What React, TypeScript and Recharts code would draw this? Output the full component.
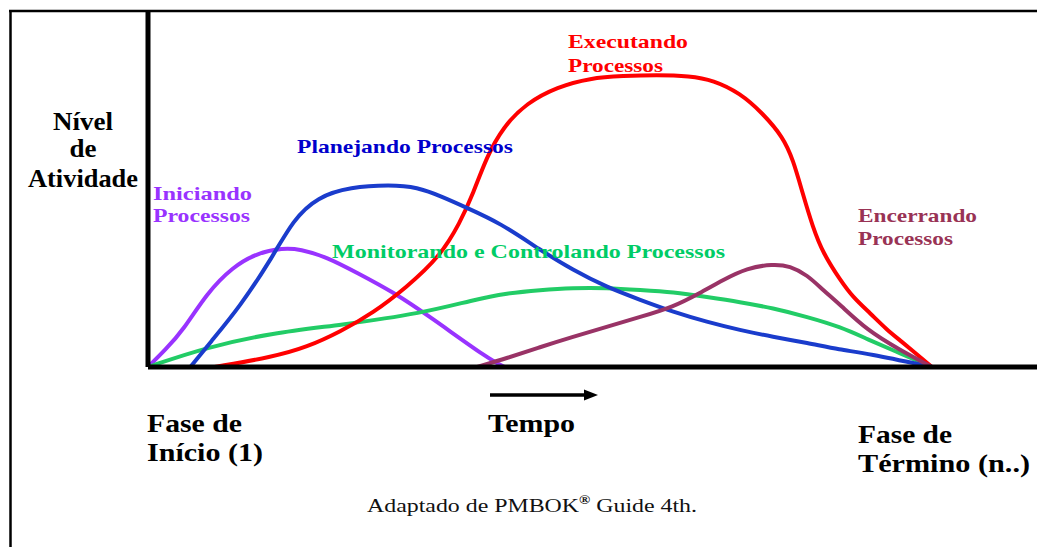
import React from "react";
import { LineChart, Line, XAxis, YAxis } from "recharts";

// tempo: 0 = fase de início, 100 = fase de término; nível de atividade 0..100
const iniciando: [number, number][] = [
  [0, 0], [2.2, 4.8], [4.5, 10.4], [7.5, 20.8], [10.8, 28.2], [13.9, 32.1],
  [17.2, 33.5], [19.4, 33.2], [22.8, 31.0], [26.7, 26.5], [31.3, 21.1],
  [36.0, 14.1], [43.6, 2.0], [45.5, 0],
];

const planejando: [number, number][] = [
  [5.4, 0], [7.9, 6.8], [11.7, 16.9], [15.9, 31.0], [18.5, 41.4], [21.6, 47.9],
  [25.8, 50.7], [30.9, 51.3], [34.3, 50.7], [37.6, 47.9], [40.7, 44.8],
  [44.9, 40.6], [50.0, 33.0], [54.2, 27.3], [58.5, 22.5], [62.8, 18.9],
  [67.0, 15.5], [71.3, 12.7], [75.5, 10.4], [79.7, 8.5], [84.1, 6.8],
  [88.3, 4.8], [91.7, 3.9], [100, 0],
];

const executando: [number, number][] = [
  [8.5, 0], [15.9, 2.8], [20.3, 5.6], [24.5, 9.9], [28.7, 15.2], [33.0, 22.5],
  [37.2, 31.0], [39.8, 40.6], [41.5, 49.0], [43.2, 59.2], [45.3, 67.6],
  [48.3, 74.4], [52.2, 78.9], [56.4, 81.4], [60.6, 82.0], [64.9, 82.3],
  [69.1, 82.0], [72.1, 80.8], [75.5, 77.2], [78.4, 71.5], [81.0, 64.8],
  [82.3, 58.3], [83.5, 49.0], [84.8, 39.4], [86.1, 32.1], [88.3, 24.5],
  [89.9, 19.7], [92.1, 15.2], [94.3, 10.4], [95.9, 7.6], [100, 0],
];

const monitorando: [number, number][] = [
  [0, 0], [7.5, 5.6], [15.9, 9.6], [24.5, 11.8], [35.1, 15.2], [41.5, 18.9],
  [45.8, 20.8], [50.0, 21.7], [54.2, 22.3], [58.5, 22.3], [62.8, 21.7],
  [67.0, 21.1], [71.3, 19.7], [75.5, 18.3], [79.7, 16.6], [84.1, 14.1],
  [88.3, 11.3], [91.7, 7.9], [95.9, 3.9], [100, 0],
];

const encerrando: [number, number][] = [
  [42.0, 0], [45.8, 2.5], [50.0, 5.6], [54.2, 8.5], [58.5, 11.3], [62.8, 14.1],
  [67.0, 16.9], [70.4, 20.8], [73.3, 24.5], [76.4, 27.9], [79.7, 29.0],
  [81.9, 28.5], [84.1, 25.9], [86.1, 21.7], [88.3, 17.5], [91.7, 10.4],
  [95.9, 4.8], [100, 0],
];

const toPts = (arr: [number, number][]) => arr.map(([t, v]) => ({ t, v }));

const series = [
  { name: "Iniciando Processos", data: iniciando, color: "#9933ff" },
  { name: "Monitorando e Controlando Processos", data: monitorando, color: "#22cc66" },
  { name: "Executando Processos", data: executando, color: "#ff0000" },
  { name: "Planejando Processos", data: planejando, color: "#1a3ccc" },
  { name: "Encerrando Processos", data: encerrando, color: "#993366" },
];

const serif = "'Liberation Serif', 'Times New Roman', serif";

type LabelProps = {
  x: number;
  y: number;
  w: number;
  size: number;
  color: string;
  children: React.ReactNode;
  anchor?: "start" | "middle";
};

const T = ({ x, y, w, size, color, children, anchor = "start" }: LabelProps) => (
  <text
    x={x}
    y={y}
    fontSize={size}
    fontFamily={serif}
    fontWeight="bold"
    fill={color}
    textAnchor={anchor}
    textLength={w}
    lengthAdjust="spacingAndGlyphs"
  >
    {children}
  </text>
);

export default function App() {
  return (
    <div style={{ position: "absolute", left: 0, top: 0, width: 1037, height: 547, background: "#fff" }}>
      <LineChart
        width={1037}
        height={547}
        margin={{ top: 12, right: 0, left: 147, bottom: 179 }}
      >
        <XAxis
          type="number"
          dataKey="t"
          domain={[0, 113.4]}
          allowDataOverflow
          height={1}
          tick={false}
          tickLine={false}
          axisLine={{ stroke: "#000", strokeWidth: 5 }}
        />
        <YAxis
          type="number"
          domain={[0, 100]}
          width={1}
          tick={false}
          tickLine={false}
          axisLine={{ stroke: "#000", strokeWidth: 5 }}
        />
        {series.map((s) => (
          <Line
            key={s.name}
            data={toPts(s.data)}
            dataKey="v"
            name={s.name}
            type="basis"
            stroke={s.color}
            strokeWidth={4}
            dot={false}
            activeDot={false}
            isAnimationActive={false}
          />
        ))}
      </LineChart>
      <svg
        width={1037}
        height={547}
        style={{ position: "absolute", left: 0, top: 0, pointerEvents: "none" }}
      >
        <line x1={10.5} y1={10} x2={10.5} y2={547} stroke="#000" strokeWidth={2.5} />
        <line x1={9} y1={11} x2={1037} y2={11} stroke="#000" strokeWidth={2.5} />

        <T x={83} y={130} w={60} size={25} color="#000" anchor="middle">Nível</T>
        <T x={83} y={157} w={27} size={25} color="#000" anchor="middle">de</T>
        <T x={83} y={187} w={110} size={25} color="#000" anchor="middle">Atividade</T>

        <T x={153} y={200} w={99} size={19} color="#9933ff">Iniciando</T>
        <T x={153} y={222} w={97} size={19} color="#9933ff">Processos</T>

        <T x={297} y={153} w={216} size={19} color="#0000cc">Planejando Processos</T>

        <T x={568} y={48} w={120} size={19} color="#ff0000">Executando</T>
        <T x={568} y={72} w={95} size={19} color="#ff0000">Processos</T>

        <T x={332} y={258} w={393} size={19} color="#00cc66">Monitorando e Controlando Processos</T>

        <T x={858} y={222} w={119} size={19} color="#993355">Encerrando</T>
        <T x={858} y={245} w={95} size={19} color="#993355">Processos</T>

        <T x={147} y={432} w={95} size={26} color="#000">Fase de</T>
        <T x={147} y={461} w={116} size={26} color="#000">Início (1)</T>

        <line x1={490} y1={395} x2={588} y2={395} stroke="#000" strokeWidth={3.5} />
        <polygon points="584,389.5 598,395 584,400.5" fill="#000" />
        <T x={488} y={432} w={87} size={26} color="#000">Tempo</T>

        <T x={858} y={443} w={94} size={26} color="#000">Fase de</T>
        <T x={858} y={472} w={172} size={26} color="#000">Término (n..)</T>

        <text
          x={367}
          y={512}
          fontSize={19}
          fontFamily={serif}
          fill="#111"
          textLength={330}
          lengthAdjust="spacingAndGlyphs"
        >
          Adaptado de PMBOK
          <tspan fontSize={12} fontWeight="bold" dy={-8}>®</tspan>
          <tspan dy={8}> Guide 4th.</tspan>
        </text>
      </svg>
    </div>
  );
}
